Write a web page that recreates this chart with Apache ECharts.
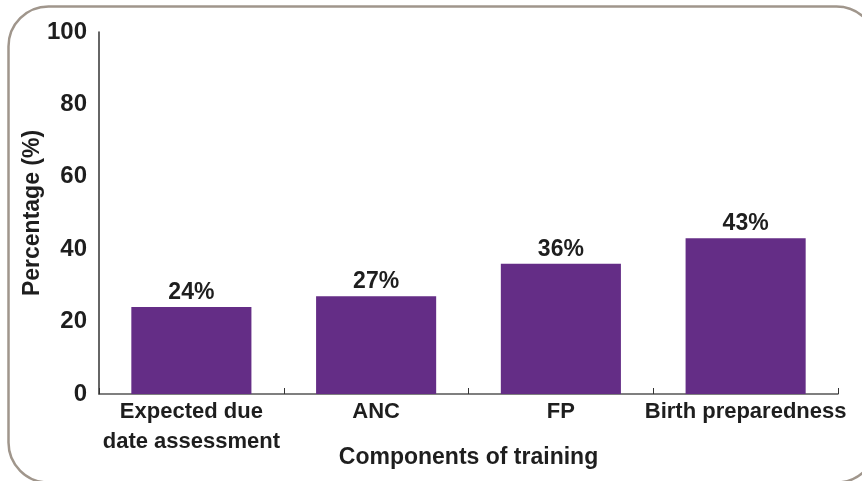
<!DOCTYPE html>
<html><head><meta charset="utf-8">
<script src="https://cdn.jsdelivr.net/npm/echarts@6/dist/echarts.min.js"></script>
<style>html,body{margin:0;padding:0;background:#fff}#c{width:862px;height:481px}</style>
</head><body><div id="c"></div>
<script>
const categories = ["Expected due\ndate assessment", "ANC", "FP", "Birth preparedness"];
const values = [24, 27, 36, 43];
const yTicks = [0, 20, 40, 60, 80, 100];

const chart = echarts.init(document.getElementById('c'), null, {renderer: 'canvas'});
const font = '"Liberation Sans", Arial, sans-serif';
chart.setOption({
  animation: false,
  graphic: [{
    type: 'rect', left: 6, top: 4,
    shape: {width: 868, height: 476, r: 40},
    style: {fill: 'none', stroke: '#a0968c', lineWidth: 2.5}
  }],
  grid: {left: 99, right: 24, top: 32, bottom: 87, containLabel: false, outerBoundsMode: 'none'},
  xAxis: {
    type: 'category', data: categories,
    name: 'Components of training', nameLocation: 'middle', nameGap: 52, nameMoveOverlap: false,
    nameTextStyle: {fontFamily: font, fontWeight: 'bold', fontSize: 23, color: '#1e1e1e'},
    axisLine: {lineStyle: {color: '#555', width: 1.5}},
    axisTick: {show: true, alignWithLabel: false, length: 6, inside: true, lineStyle: {color: '#333'}},
    axisLabel: {interval: 0, hideOverlap: false, fontFamily: font, fontWeight: 'bold', fontSize: 22, color: '#1e1e1e', margin: 3, lineHeight: 30}
  },
  yAxis: {
    type: 'value', min: 0, max: 100, interval: 20,
    name: 'Percentage (%)', nameLocation: 'middle', nameGap: 55, nameRotate: 90, nameMoveOverlap: false,
    nameTextStyle: {fontFamily: font, fontWeight: 'bold', fontSize: 23, color: '#1e1e1e'},
    axisLine: {show: true, lineStyle: {color: '#333', width: 1.5}},
    axisTick: {show: false},
    splitLine: {show: false},
    axisLabel: {fontFamily: font, fontWeight: 'bold', fontSize: 24, color: '#1e1e1e', margin: 12,
      formatter: v => yTicks.includes(v) ? String(v) : ''}
  },
  series: [{
    type: 'bar', data: values, barWidth: '65%',
    itemStyle: {color: '#642d86'},
    label: {show: true, position: 'top', distance: 3, formatter: '{c}%',
      fontFamily: font, fontWeight: 'bold', fontSize: 23, color: '#1e1e1e'}
  }]
});
</script></body></html>
